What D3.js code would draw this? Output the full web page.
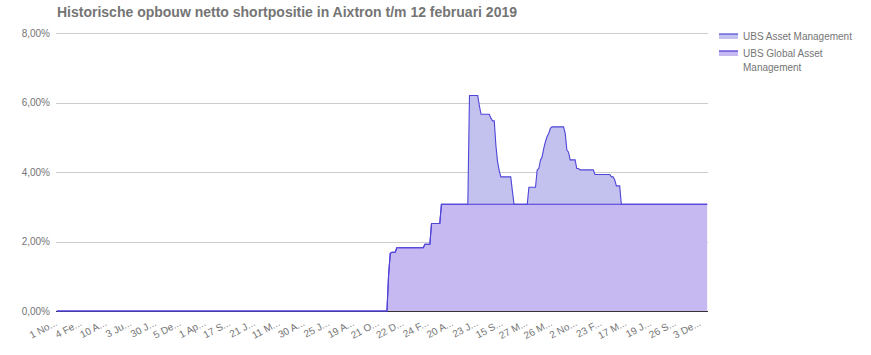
<!DOCTYPE html>
<html>
<head>
<meta charset="utf-8">
<script src="https://cdn.jsdelivr.net/npm/d3@7/dist/d3.min.js"></script>
<style>
  html, body { margin: 0; padding: 0; background: #fff; }
  svg { display: block; font-family: Arial, "Liberation Sans", sans-serif; }
</style>
</head>
<body>
<svg id="chart" width="871" height="355"></svg>
<script>
// ---------------- data ----------------
const title = "Historische opbouw netto shortpositie in Aixtron t/m 12 februari 2019";
const seriesNames = ["UBS Asset Management", "UBS Global Asset Management"];
const categoryCount = 395;          // number of dated observations on the discrete x axis
const labelEvery = 15;              // an axis label is shown on every 15th observation
const xTickLabels = ["1 No...", "4 Fe...", "10 A...", "3 Ju...", "30 J...", "5 De...", "1 Ap...",
  "17 S...", "21 J...", "11 M...", "30 A...", "25 J...", "19 A...", "21 O...", "22 D...",
  "24 F...", "20 A...", "23 J...", "15 S...", "27 M...", "26 M...", "2 No...", "23 F...",
  "17 M...", "19 J...", "26 S...", "3 De..."];
const yTickValues = [0, 2, 4, 6, 8];

// [first observation index, net short position %] – value holds until the next entry
const globalSteps = [[0, 0], [201, 1.04], [202, 1.66], [203, 1.69], [206, 1.82], [223, 1.92],
  [227, 2.52], [233, 3.07]];
const amSteps = [[0, 0], [250, 3.13], [256, 2.83], [257, 2.59], [263, 2.48], [264, 2.40],
  [266, 1.70], [267, 1.23], [268, 0.98], [269, 0.79], [276, 0.38], [277, 0],
  [286, 0.49], [291, 0.99], [292, 1.03], [293, 1.27], [294, 1.37], [295, 1.61], [296, 1.80],
  [297, 1.95], [298, 2.04], [299, 2.19], [300, 2.23], [308, 2.04], [309, 1.56], [310, 1.50],
  [311, 1.28], [315, 1.03], [317, 0.99], [326, 0.86], [336, 0.79], [338, 0.70], [339, 0.53],
  [342, 0]];

// ---------------- layout ----------------
const plot = { left: 56, right: 708, top: 33, bottom: 311 };
const colors = {
  amFill: "#c3c1ee", amLine: "#4f46d8",
  glFill: "#c6b9f1", glLine: "#4e33da",
  grid: "#cccccc", base: "#333333", text: "#757575"
};

function expand(steps) {
  const out = [];
  let s = 0;
  for (let i = 0; i < categoryCount; i++) {
    while (s + 1 < steps.length && steps[s + 1][0] <= i) s++;
    out.push(steps[s][1]);
  }
  return out;
}
const glVals = expand(globalSteps);
const amVals = expand(amSteps);
const idx = d3.range(categoryCount);
const rows = idx.map(i => ({ i, gl: glVals[i], am: amVals[i] }));

const x = d3.scaleBand().domain(idx).range([plot.left, plot.right]).padding(0);
const cx = i => x(i) + x.bandwidth() / 2;
const y = d3.scaleLinear().domain([0, 8]).range([plot.bottom, plot.top]);

const svg = d3.select("#chart");
const locale = d3.formatLocale({ decimal: ",", thousands: ".", grouping: [3], currency: ["€", ""] });
const fmt = locale.format(".2f");

// title
svg.append("text").attr("x", 57).attr("y", 17)
  .attr("font-size", 14).attr("font-weight", "bold").attr("fill", colors.text)
  .text(title);

// gridlines
const yAxis = d3.axisLeft(y).tickValues(yTickValues).tickSize(-(plot.right - plot.left))
  .tickFormat(d => fmt(d) + "%").tickPadding(6);
const gy = svg.append("g").attr("transform", `translate(${plot.left},0)`).call(yAxis);
gy.select(".domain").remove();
gy.selectAll(".tick line").attr("stroke", d => d === 0 ? colors.base : colors.grid).attr("stroke-width", 1)
  .attr("shape-rendering", "crispEdges");
gy.selectAll(".tick text").attr("font-size", 10).attr("fill", colors.text)
  .attr("font-family", "Arial, 'Liberation Sans', sans-serif");

// stacked areas
const areaGl = d3.area().x(d => cx(d.i)).y0(y(0)).y1(d => y(d.gl));
const areaAm = d3.area().x(d => cx(d.i)).y0(d => y(d.gl)).y1(d => y(d.gl + d.am));
svg.append("path").datum(rows).attr("d", areaGl).attr("fill", colors.glFill);
svg.append("path").datum(rows).attr("d", areaAm).attr("fill", colors.amFill);

const lineGl = d3.line().x(d => cx(d.i)).y(d => y(d.gl));
const lineAm = d3.line().x(d => cx(d.i)).y(d => y(d.gl + d.am));
svg.append("path").datum(rows).attr("d", lineGl).attr("fill", "none")
  .attr("stroke", colors.glLine).attr("stroke-width", 1.1);
svg.append("path").datum(rows).attr("d", lineAm).attr("fill", "none")
  .attr("stroke", colors.amLine).attr("stroke-width", 1.1);

// x axis labels
const xAxis = d3.axisBottom(x)
  .tickValues(xTickLabels.map((_, k) => k * labelEvery))
  .tickFormat(d => xTickLabels[d / labelEvery]).tickSize(0).tickPadding(0);
const gx = svg.append("g").attr("transform", `translate(0,${plot.bottom})`).call(xAxis);
gx.select(".domain").remove();
gx.selectAll(".tick text")
  .attr("font-size", 10).attr("fill", colors.text)
  .attr("font-family", "Arial, 'Liberation Sans', sans-serif")
  .attr("text-anchor", "end").attr("dy", null).attr("y", 0)
  .attr("transform", "translate(1,14) rotate(-28)");

// legend
const legend = [
  { lines: ["UBS Asset Management"], fill: colors.amFill, stroke: colors.amLine, y: 33 },
  { lines: ["UBS Global Asset", "Management"], fill: colors.glFill, stroke: colors.glLine, y: 50 }
];
const lg = svg.append("g");
legend.forEach(item => {
  lg.append("rect").attr("x", 719).attr("y", item.y + 1).attr("width", 19).attr("height", 5).attr("fill", item.fill);
  lg.append("rect").attr("x", 719).attr("y", item.y).attr("width", 19).attr("height", 2).attr("fill", item.stroke).attr("opacity", 0.6);
  item.lines.forEach((t, k) => {
    lg.append("text").attr("x", 743).attr("y", item.y + 7 + k * 13.5)
      .attr("font-size", 10).attr("fill", colors.text).text(t);
  });
});
</script>
</body>
</html>
